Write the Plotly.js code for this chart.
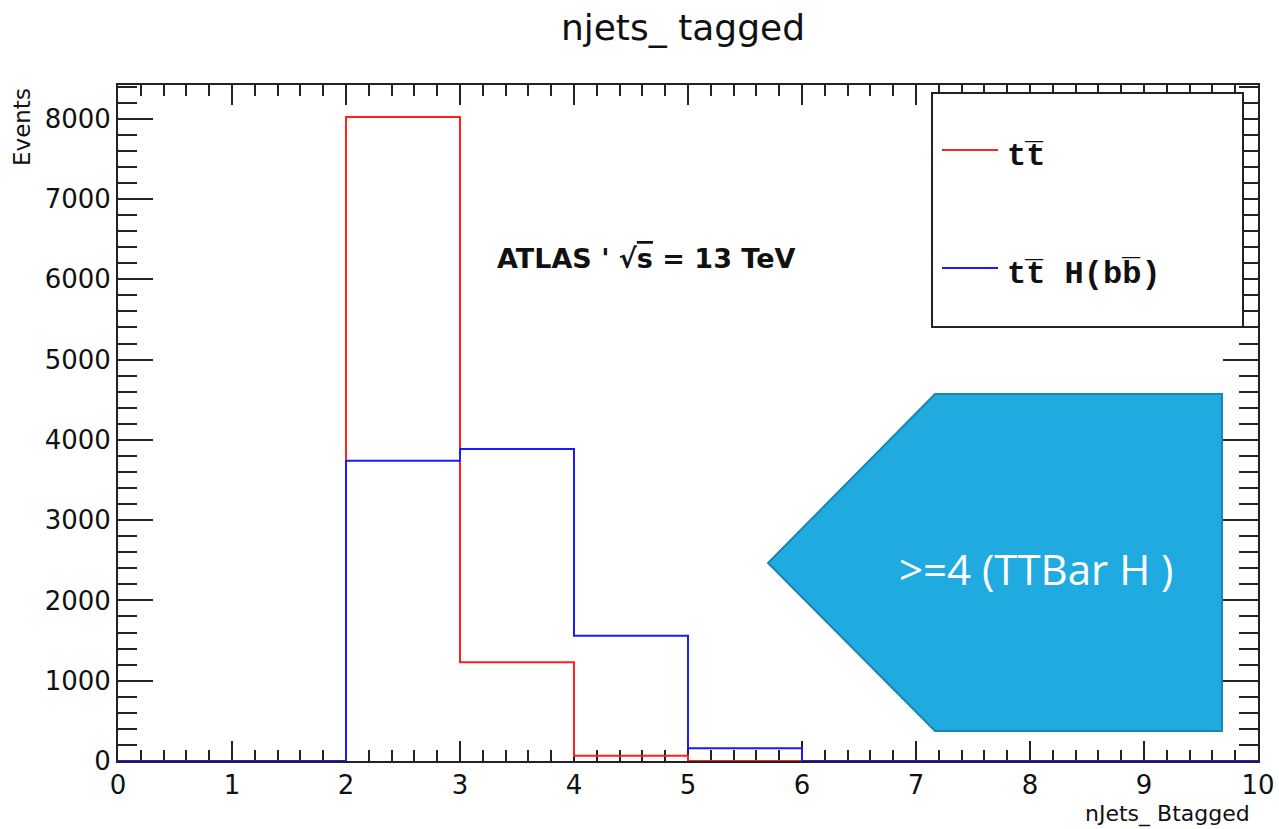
<!DOCTYPE html>
<html>
<head>
<meta charset="utf-8">
<script src="https://cdn.plot.ly/plotly-3.0.1.min.js"></script>
<style>html,body{margin:0;padding:0;background:#fff;}#chart{width:1279px;height:829px;}</style>
</head>
<body>
<div id="chart"></div>
<script>
// ---- data ----
const binEdges = [0,1,2,3,4,5,6,7,8,9,10];
const ttbarCounts = [0,0,8020,1230,65,0,0,0,0,0];
const ttHbbCounts = [0,0,3740,3885,1560,160,0,0,0,0];
const ttbarName = "tt\u0305";
const ttHbbName = "tt\u0305 H(bb\u0305)";
const titleText = "njets_ tagged";
const xTitle = "nJets_ Btagged";
const yTitle = "Events";
const boxText = ">=4 (TTBar H )";

// plot-area geometry (pixels) for overlay helpers
const L = 118, R = 1258, T = 85, B = 761;
const px = x => (x - L) / (R - L);
const py = y => (B - y) / (B - T);

function stepY(counts){ return counts.concat([counts[counts.length-1]]); }

const traces = [
  {x: binEdges, y: stepY(ttbarCounts), type:'scatter', mode:'lines', line:{shape:'hv', color:'#ff2020', width:2},
   name: ttbarName, showlegend:false, cliponaxis:false, hoverinfo:'skip'},
  {x: binEdges, y: stepY(ttHbbCounts), type:'scatter', mode:'lines', line:{shape:'hv', color:'#1a1aff', width:2},
   name: ttHbbName, showlegend:false, cliponaxis:false, hoverinfo:'skip'}
];

const axisCommon = {
  showgrid:false, zeroline:false, showline:true, linecolor:'#222', linewidth:2,
  mirror:'ticks', ticks:'inside', tickcolor:'#222', tickwidth:2,
  tickfont:{family:'DejaVu Sans', size:26, color:'#111'}, layer:'below traces', fixedrange:true
};

const pent = [[768,563],[935,394],[1222,394],[1222,731],[935,731]];
const pentPath = 'M ' + pent.map(p => px(p[0]).toFixed(4)+','+py(p[1]).toFixed(4)).join(' L ') + ' Z';

const layout = {
  width:1279, height:829,
  margin:{l:L, r:1279-R, t:T, b:829-B},
  paper_bgcolor:'#fff', plot_bgcolor:'#fff',
  title:{text:titleText, x:0.534, xref:'container', xanchor:'center', y:1-27/829, yref:'container', yanchor:'middle',
         font:{family:'DejaVu Sans', size:36, color:'#111'}},
  xaxis: Object.assign({}, axisCommon, {range:[0,10], dtick:1, tick0:0, ticklen:20,
          minor:{dtick:0.2, ticklen:11, ticks:'inside', tickcolor:'#222', tickwidth:2}}),
  yaxis: Object.assign({}, axisCommon, {range:[0,8420], dtick:1000, tick0:0, ticklen:35,
          minor:{dtick:200, ticklen:19, ticks:'inside', tickcolor:'#222', tickwidth:2}}),
  shapes:[
    {type:'path', xref:'paper', yref:'paper', path:pentPath, fillcolor:'#1fabe0', line:{color:'#1a85ae', width:2}, layer:'above'},
    {type:'rect', xref:'paper', yref:'paper', x0:px(932), x1:px(1243), y0:py(327), y1:py(93), line:{color:'#222', width:2}, fillcolor:'#fff', layer:'above'},
    {type:'line', xref:'paper', yref:'paper', x0:px(942), x1:px(998), y0:py(150), y1:py(150), line:{color:'#ff2020', width:2}},
    {type:'line', xref:'paper', yref:'paper', x0:px(942), x1:px(998), y0:py(268), y1:py(268), line:{color:'#1a1aff', width:2}}
  ],
  annotations:[
    {text:xTitle, xref:'paper', yref:'paper', x:px(1252), y:py(814), xanchor:'right', yanchor:'middle', showarrow:false,
     font:{family:'DejaVu Sans', size:22, color:'#111'}},
    {text:yTitle, xref:'paper', yref:'paper', x:px(22), y:py(86), xanchor:'center', yanchor:'top', textangle:-90, showarrow:false,
     font:{family:'DejaVu Sans', size:23, color:'#111'}},
    {text:"<b>ATLAS ' √<span style='text-decoration:overline'>s</span> = 13 TeV</b>", xref:'paper', yref:'paper', x:px(495), y:py(258),
     xanchor:'left', yanchor:'middle', showarrow:false, font:{family:'DejaVu Sans', size:27, color:'#111'}},
    {text:"<b>"+ttbarName+"</b>", xref:'paper', yref:'paper', x:px(1005), y:py(156), xanchor:'left', yanchor:'middle', showarrow:false,
     font:{family:'Liberation Mono', size:32, color:'#111'}},
    {text:"<b>"+ttHbbName+"</b>", xref:'paper', yref:'paper', x:px(1005), y:py(274), xanchor:'left', yanchor:'middle', showarrow:false,
     font:{family:'Liberation Mono', size:32, color:'#111'}},
    {text:boxText, xref:'paper', yref:'paper', x:px(1036), y:py(568), xanchor:'center', yanchor:'middle', showarrow:false,
     font:{family:'Open Sans', size:42, color:'#ffffff'}}
  ]
};

Plotly.newPlot('chart', traces, layout, {displayModeBar:false, staticPlot:true});
</script>
</body>
</html>
